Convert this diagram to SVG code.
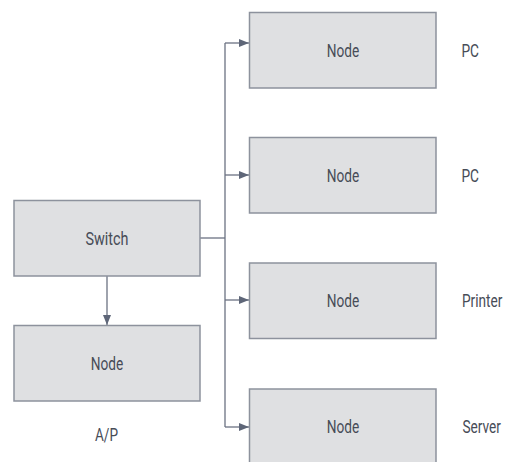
<svg xmlns="http://www.w3.org/2000/svg" width="506" height="462" viewBox="0 0 506 462">
  <style>
    .box { fill: #dfe0e2; stroke: #8d929d; stroke-width: 1.5; }
    .lbl { font-family: Roboto, "Liberation Sans", sans-serif; font-size: 17.5px; fill: #474c57; }
    .mid { text-anchor: middle; }
    .wire { fill: none; stroke: #6b7282; stroke-width: 1.3; }
  </style>
  <defs>
    <marker id="arrow" viewBox="0 0 10 8" refX="10" refY="4" markerWidth="10" markerHeight="8" markerUnits="userSpaceOnUse" orient="auto">
      <path d="M0,0 L10,4 L0,8 Z" fill="#5e6678"/>
    </marker>
  </defs>

  <!-- connectors -->
  <g id="connectors">
    <path class="wire" d="M200,238 H225"/>
    <path class="wire" d="M225,43 V427"/>
    <path class="wire" d="M225,43 H249" marker-end="url(#arrow)"/>
    <path class="wire" d="M225,175 H249" marker-end="url(#arrow)"/>
    <path class="wire" d="M225,300 H249" marker-end="url(#arrow)"/>
    <path class="wire" d="M225,427 H249" marker-end="url(#arrow)"/>
    <path class="wire" d="M107,276 V325" marker-end="url(#arrow)"/>
  </g>

  <!-- left column -->
  <g id="switch">
    <rect class="box" x="14" y="200.5" width="186" height="75.5"/>
    <text class="lbl mid" x="107" y="244.5" textLength="43" lengthAdjust="spacingAndGlyphs">Switch</text>
  </g>
  <g id="ap-node">
    <rect class="box" x="14" y="325.5" width="186" height="75.5"/>
    <text class="lbl mid" x="107" y="370" textLength="32.5" lengthAdjust="spacingAndGlyphs">Node</text>
    <text class="lbl mid" x="106.5" y="440.5" textLength="23" lengthAdjust="spacingAndGlyphs">A/P</text>
  </g>

  <!-- right column -->
  <g id="pc-1">
    <rect class="box" x="249.5" y="12.5" width="186.5" height="75.5"/>
    <text class="lbl mid" x="343" y="56.5" textLength="32.5" lengthAdjust="spacingAndGlyphs">Node</text>
    <text class="lbl" x="461.5" y="56.5" textLength="17.5" lengthAdjust="spacingAndGlyphs">PC</text>
  </g>
  <g id="pc-2">
    <rect class="box" x="249.5" y="137.5" width="186.5" height="75.5"/>
    <text class="lbl mid" x="343" y="181.5" textLength="32.5" lengthAdjust="spacingAndGlyphs">Node</text>
    <text class="lbl" x="461.5" y="181.5" textLength="17.5" lengthAdjust="spacingAndGlyphs">PC</text>
  </g>
  <g id="printer">
    <rect class="box" x="249.5" y="263" width="186.5" height="75.5"/>
    <text class="lbl mid" x="343" y="306.5" textLength="32.5" lengthAdjust="spacingAndGlyphs">Node</text>
    <!-- narrow side labels: horizontally condensed -->
    <text class="lbl" transform="translate(462,306.5) scale(0.78,1)">Printer</text>
  </g>
  <g id="server">
    <rect class="box" x="249.5" y="389" width="186.5" height="76"/>
    <text class="lbl mid" x="343" y="432.5" textLength="32.5" lengthAdjust="spacingAndGlyphs">Node</text>
    <text class="lbl" transform="translate(462.5,432.5) scale(0.78,1)">Server</text>
  </g>
</svg>
